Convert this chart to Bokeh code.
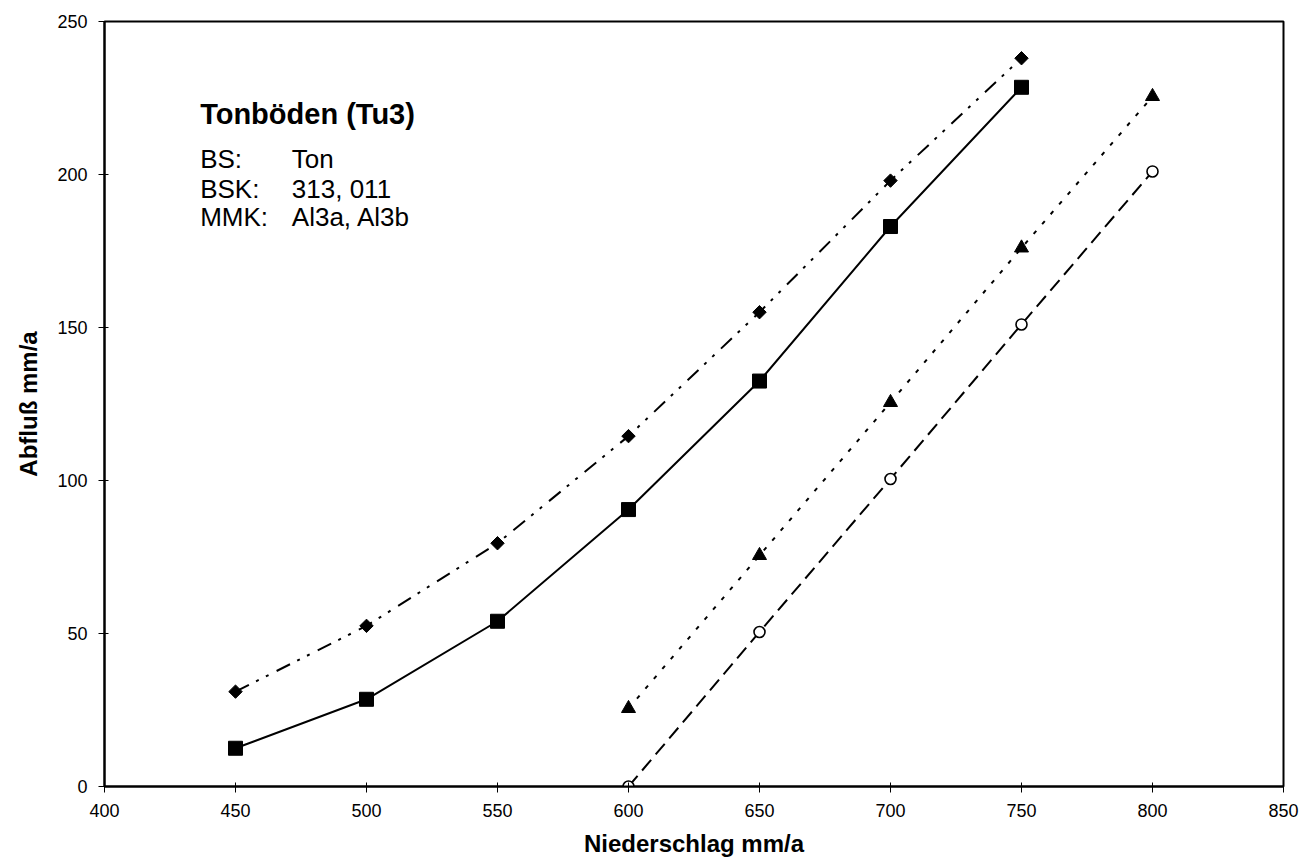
from bokeh.plotting import figure
from bokeh.models import FixedTicker, Label, Range1d
from bokeh.embed import file_html
from bokeh.resources import INLINE
import numpy as np

# Niederschlag (mm/a) and Abfluss (mm/a) for four curves
x_a = [450, 500, 550, 600, 650, 700, 750]
y_diamond = [31, 52.5, 79.5, 114.5, 155, 198, 238]
y_square = [12.5, 28.5, 54, 90.5, 132.5, 183, 228.5]

x_b = [600, 650, 700, 750, 800]
y_triangle = [25.5, 75.5, 125.5, 176, 225.5]
y_circle = [0, 50.5, 100.5, 151, 201]

x_ticks = [400, 450, 500, 550, 600, 650, 700, 750, 800, 850]
y_ticks = [0, 50, 100, 150, 200, 250]

title_text = "Tonböden (Tu3)"
info_keys = ["BS:", "BSK:", "MMK:"]
info_vals = ["Ton", "313, 011", "Al3a, Al3b"]

FONT = "Liberation Sans"

p = figure(width=1301, height=867, output_backend="svg", toolbar_location=None,
           x_range=Range1d(400, 850), y_range=Range1d(0, 250),
           min_border_left=104, min_border_right=18,
           min_border_top=21, min_border_bottom=81)

p.grid.visible = False
p.background_fill_color = "white"
p.border_fill_color = "white"
p.outline_line_color = "black"
p.outline_line_width = 2

for ax in (p.xaxis[0], p.yaxis[0]):
    ax.axis_line_color = "black"
    ax.axis_line_width = 2
    ax.major_tick_line_color = "black"
    ax.major_tick_line_width = 1
    ax.major_tick_in = 4
    ax.major_tick_out = 6
    ax.minor_tick_line_color = None
    ax.major_label_text_font = FONT
    ax.major_label_text_font_size = "18px"
    ax.major_label_text_color = "black"
    ax.axis_label_text_font = FONT
    ax.axis_label_text_font_size = "24px"
    ax.axis_label_text_font_style = "bold"
    ax.axis_label_text_color = "black"

p.xaxis.ticker = FixedTicker(ticks=x_ticks)
p.yaxis.ticker = FixedTicker(ticks=y_ticks)
p.xaxis.axis_label = "Niederschlag mm/a"
p.yaxis.axis_label = "Abfluß mm/a"
p.xaxis.major_label_standoff = 11
p.yaxis.major_label_standoff = 11
p.xaxis.axis_label_standoff = 10
p.yaxis.axis_label_standoff = 12

# dash-dot-dot curve with diamonds
p.line(x_a, y_diamond, line_color="black", line_width=2, line_dash="15 8 3 8 3 9")
p.scatter(x_a, y_diamond, marker="square", angle=np.pi / 4, size=9.5,
          fill_color="black", line_color="black")

# solid curve with squares
p.line(x_a, y_square, line_color="black", line_width=2)
p.scatter(x_a, y_square, marker="square", size=14,
          fill_color="black", line_color="black")

# dotted curve with triangles
p.line(x_b, y_triangle, line_color="black", line_width=2, line_dash="4 9")
p.scatter(x_b, y_triangle, marker="triangle", size=14,
          fill_color="black", line_color="black")

# dashed curve with open circles
p.line(x_b, y_circle, line_color="black", line_width=2, line_dash="14 7")
p.scatter(x_b, y_circle, marker="circle", size=11, fill_color="white",
          line_color="black", line_width=1.6)

# text block in upper left
p.add_layout(Label(x=436.5, y=219.8, text=title_text, text_font=FONT,
                   text_font_size="29px", text_font_style="bold",
                   text_color="black", text_baseline="alphabetic"))
key_y = [205.2, 195.4, 186.2]
for k, v, yy in zip(info_keys, info_vals, key_y):
    p.add_layout(Label(x=436.5, y=yy, text=k, text_font=FONT,
                       text_font_size="26px", text_color="black",
                       text_baseline="alphabetic"))
    p.add_layout(Label(x=471.5, y=yy, text=v, text_font=FONT,
                       text_font_size="26px", text_color="black",
                       text_baseline="alphabetic"))

open("out.html", "w").write(file_html(p, INLINE))
